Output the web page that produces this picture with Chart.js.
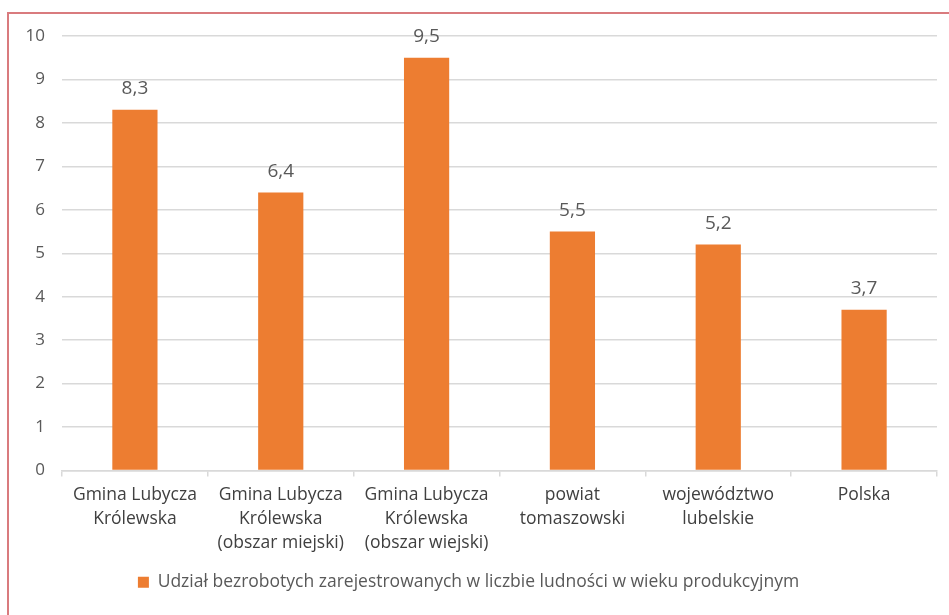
<!DOCTYPE html>
<html>
<head>
<meta charset="utf-8">
<script src="https://cdn.jsdelivr.net/npm/chart.js@4"></script>
<style>
html,body{margin:0;padding:0;background:#fff;}
#wrap{position:relative;width:949px;height:615px;overflow:hidden;}
#frame{position:absolute;left:7px;top:12px;width:960px;height:640px;border-top:2px solid #d97b7e;border-left:2px solid #d97b7e;box-sizing:border-box;}
#chart{position:absolute;left:0;top:0;}
</style>
</head>
<body>
<div id="wrap">
<div id="frame"></div>
<canvas id="chart" width="949" height="615"></canvas>
</div>
<script>
const categories = [
["Gmina Lubycza","Królewska"],
["Gmina Lubycza","Królewska","(obszar miejski)"],
["Gmina Lubycza","Królewska","(obszar wiejski)"],
["powiat","tomaszowski"],
["województwo","lubelskie"],
["Polska"]
];
const values = [8.3,6.4,9.5,5.5,5.2,3.7];
const seriesName = "Udział bezrobotych zarejestrowanych w liczbie ludności w wieku produkcyjnym";
const yTicks = [0,1,2,3,4,5,6,7,8,9,10];

const FONT = "'Open Sans', sans-serif";

const valueLabels = {
id:"valueLabels",
afterDatasetsDraw(chart){
const ctx=chart.ctx;
const meta=chart.getDatasetMeta(0);
ctx.save();
ctx.font="19px "+FONT;
ctx.fillStyle="#595959";
ctx.textAlign="center";
ctx.textBaseline="middle";
meta.data.forEach((bar,i)=>{
ctx.fillText(String(values[i]).replace(".",","),bar.x,bar.y-21);
});
ctx.restore();
}
};

new Chart(document.getElementById("chart"),{
type:"bar",
data:{
labels:categories,
datasets:[{
label:seriesName,
data:values,
backgroundColor:"#ED7D31",
categoryPercentage:1,
barPercentage:0.31
}]
},
options:{
responsive:false,
animation:false,
devicePixelRatio:1,
layout:{padding:{top:36,right:12,bottom:14,left:0}},
plugins:{
legend:{
position:"bottom",
labels:{
font:{family:FONT,size:17.5},
color:"#595959",
boxWidth:11,
boxHeight:11,
padding:12
}
},
tooltip:{enabled:false}
},
scales:{
x:{
grid:{drawOnChartArea:false,drawTicks:true,tickLength:6,color:"#d9d9d9",lineWidth:1.5},
border:{color:"#d9d9d9",width:1.5},
ticks:{font:{family:FONT,size:17.5,lineHeight:1.37},color:"#404040",padding:7,maxRotation:0,autoSkip:false},
afterFit(s){s.height=91;}
},
y:{
min:0,max:10,
afterBuildTicks(s){s.ticks=yTicks.map(v=>({value:v}));},
grid:{color:"#d9d9d9",lineWidth:1.5,drawTicks:false},
border:{display:false},
ticks:{font:{family:FONT,size:17},color:"#595959",padding:17},
afterFit(s){s.width=62;}
}
}
},
plugins:[valueLabels]
});
</script>
</body>
</html>
